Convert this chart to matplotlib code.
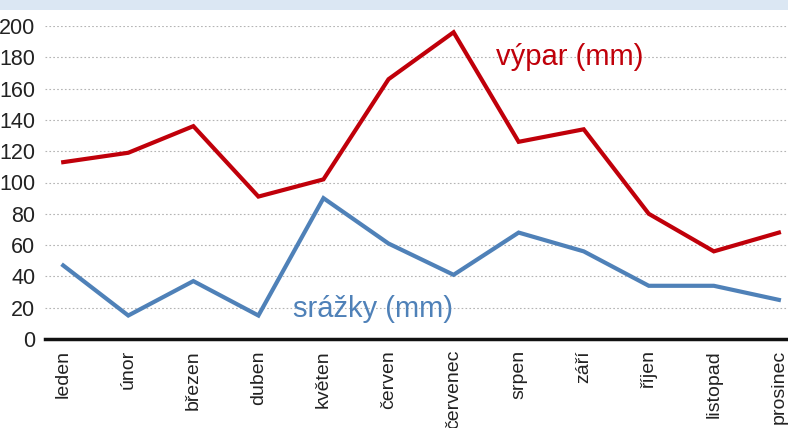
import matplotlib
matplotlib.use('Agg')
import matplotlib.pyplot as plt
import numpy as np
from matplotlib.patches import Rectangle

months = ['leden', 'únor', 'březen', 'duben', 'květen', 'červen',
          'červenec', 'srpen', 'září', 'říjen', 'listopad', 'prosinec']
vypar = [113, 119, 136, 91, 102, 166, 196, 126, 134, 80, 56, 68]
srazky = [47, 15, 37, 15, 90, 61, 41, 68, 56, 34, 34, 25]
yticks = [0, 20, 40, 60, 80, 100, 120, 140, 160, 180, 200]

red = '#c0000a'
blue = '#4f81b8'
font = ['Liberation Sans', 'DejaVu Sans']

fig = plt.figure(figsize=(7.88, 4.28), dpi=100)
# light blue strip across the very top
fig.patches.append(Rectangle((0, 0.976), 1, 0.024, transform=fig.transFigure,
                             facecolor='#dbe7f3', edgecolor='none', zorder=0))
ax = fig.add_axes([45 / 788, 1 - 339 / 428, 743 / 788, 313 / 428])

x = np.arange(len(months))
ax.plot(x, vypar, color=red, lw=3.0, solid_joinstyle='miter', zorder=3)
ax.plot(x, srazky, color=blue, lw=3.0, solid_joinstyle='miter', zorder=3)

ax.set_ylim(0, 200)
ax.set_xlim(-0.28, 11.14)
ax.set_yticks(yticks)
ax.set_yticklabels([str(v) for v in yticks], family=font, fontsize=15.5, color='#222222')
ax.set_xticks(x)
ax.set_xticklabels(months, rotation=90, family=font, fontsize=14, color='#222222',
                   va='top', ha='center')
ax.tick_params(axis='both', length=0)
ax.tick_params(axis='x', pad=8)
ax.tick_params(axis='y', pad=7)

for v in yticks[1:]:
    ax.axhline(v, color='#b4b4b4', lw=0.8, ls=(0, (1.5, 2)), zorder=1)

for s in ['top', 'right', 'left']:
    ax.spines[s].set_visible(False)
ax.spines['bottom'].set_linewidth(2.5)
ax.spines['bottom'].set_color('#111111')

ax.text(7.79, 180, 'výpar (mm)', color=red, fontsize=21, family=font,
        va='center', ha='center', zorder=4)
ax.text(4.76, 19, 'srážky (mm)', color=blue, fontsize=21, family=font,
        va='center', ha='center', zorder=4)

fig.savefig('out.png', dpi=100)
